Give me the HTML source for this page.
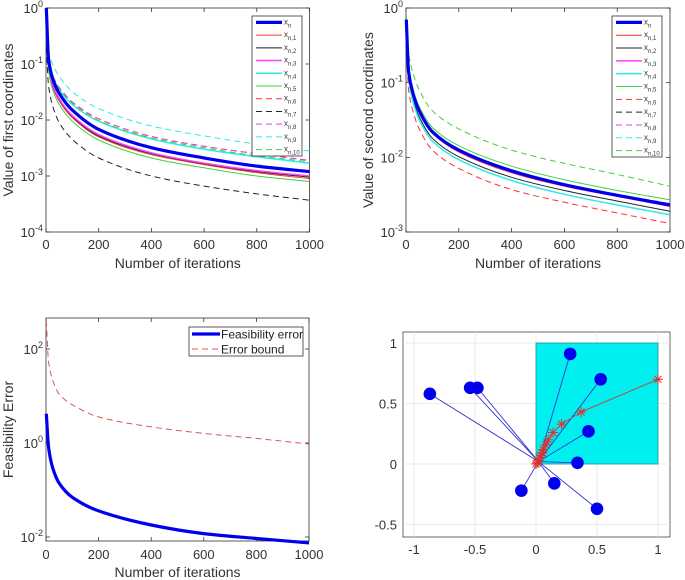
<!DOCTYPE html>
<html><head><meta charset="utf-8">
<style>
html,body{margin:0;padding:0;background:#fff;}
svg{display:block;font-family:"Liberation Sans",sans-serif;}
</style></head>
<body>
<svg id="fig" width="685" height="580" viewBox="0 0 685 580" xmlns="http://www.w3.org/2000/svg"></svg>
<script>
// ---------- data ----------
const iters = [1, 10, 25, 50, 100, 200, 400, 600, 800, 1000];
const seriesNames = ["n","n,1","n,2","n,3","n,4","n,5","n,6","n,7","n,8","n,9","n,10"];
// first coordinates
const first_xn  = [1.0, 0.12, 0.055, 0.03, 0.015, 0.0068, 0.0032, 0.0021, 0.0015, 0.0012];
const first_n1  = [0.5, 0.085, 0.04, 0.022, 0.011, 0.005, 0.0024, 0.0016, 0.00115, 0.0009];
const first_n2  = [0.5, 0.088, 0.041, 0.023, 0.0115, 0.0052, 0.0025, 0.00165, 0.0012, 0.00095];
const first_n3  = [0.5, 0.09, 0.043, 0.024, 0.012, 0.0055, 0.0026, 0.0017, 0.00125, 0.001];
const first_n4  = [0.3, 0.1, 0.06, 0.035, 0.019, 0.0095, 0.0046, 0.003, 0.0022, 0.0017];
const first_n5  = [0.4, 0.075, 0.035, 0.019, 0.0095, 0.0044, 0.0021, 0.0014, 0.001, 0.0008];
const first_n6  = [0.3, 0.1, 0.062, 0.038, 0.021, 0.0105, 0.0051, 0.0034, 0.0025, 0.0019];
const first_n7  = [0.2, 0.04, 0.018, 0.009, 0.0045, 0.0021, 0.001, 0.00066, 0.00048, 0.00037];
const first_n8  = [0.3, 0.1, 0.062, 0.038, 0.021, 0.0105, 0.0051, 0.0034, 0.0025, 0.0019];
const first_n9  = [0.4, 0.16, 0.1, 0.06, 0.032, 0.016, 0.0078, 0.0052, 0.0037, 0.0028];
const first_n10 = [0.3, 0.1, 0.06, 0.036, 0.02, 0.0098, 0.0048, 0.0032, 0.0023, 0.0018];
// second coordinates
const second_xn  = [0.7, 0.14, 0.075, 0.042, 0.022, 0.0125, 0.0066, 0.0043, 0.0031, 0.0023];
const second_n1  = [0.5, 0.13, 0.07, 0.04, 0.021, 0.0118, 0.0062, 0.0041, 0.003, 0.0022];
const second_n2  = [0.5, 0.12, 0.063, 0.035, 0.018, 0.0102, 0.0054, 0.0036, 0.0026, 0.0019];
const second_n3  = [0.6, 0.135, 0.073, 0.041, 0.0215, 0.0122, 0.0064, 0.0042, 0.0031, 0.0023];
const second_n4  = [0.5, 0.11, 0.058, 0.032, 0.0165, 0.0093, 0.0049, 0.0032, 0.0023, 0.0017];
const second_n5  = [0.6, 0.15, 0.085, 0.048, 0.025, 0.0143, 0.0076, 0.005, 0.0036, 0.0027];
const second_n6  = [0.3, 0.08, 0.043, 0.024, 0.0125, 0.0071, 0.0037, 0.0025, 0.0018, 0.0013];
const second_n7  = [0.5, 0.135, 0.073, 0.041, 0.0215, 0.0122, 0.0064, 0.0042, 0.0031, 0.0023];
const second_n8  = [0.5, 0.14, 0.075, 0.043, 0.0225, 0.0128, 0.0067, 0.0044, 0.0032, 0.0024];
const second_n9  = [0.5, 0.135, 0.073, 0.041, 0.0215, 0.0122, 0.0064, 0.0042, 0.0031, 0.0023];
const second_n10 = [0.8, 0.25, 0.14, 0.08, 0.042, 0.024, 0.0125, 0.0083, 0.0059, 0.0041];
// feasibility
const feasError = [4.2, 0.8, 0.3, 0.14, 0.07, 0.036, 0.018, 0.0118, 0.0093, 0.0075];
const errBound  = [400, 52, 22, 11, 6.5, 3.6, 2.2, 1.6, 1.25, 0.95];
// scatter
const ptsX = [-0.87, -0.54, -0.48, 0.28, 0.53, 0.43, 0.34, -0.12, 0.15, 0.50];
const ptsY = [0.58, 0.63, 0.63, 0.91, 0.70, 0.27, 0.01, -0.22, -0.16, -0.37];
const pathX = [1.0, 0.37, 0.21, 0.14, 0.10, 0.08, 0.06, 0.05, 0.04, 0.03, 0.02, 0.01, 0.0];
const pathY = [0.70, 0.43, 0.33, 0.26, 0.20, 0.16, 0.12, 0.09, 0.07, 0.05, 0.03, 0.01, 0.0];
const xTicks = [0, 200, 400, 600, 800, 1000];

const NS = "http://www.w3.org/2000/svg";
const svg = document.getElementById("fig");
function el(tag, attrs, parent, text){
  const e = document.createElementNS(NS, tag);
  for (const k in attrs) e.setAttribute(k, attrs[k]);
  if (text !== undefined) e.textContent = text;
  (parent || svg).appendChild(e);
  return e;
}
// monotone cubic path through pixel points
function smoothPath(xs, ys){
  const n = xs.length, d = [], m = [];
  for (let i=0;i<n-1;i++) d.push((ys[i+1]-ys[i])/(xs[i+1]-xs[i]));
  m[0]=d[0]; m[n-1]=d[n-2];
  for (let i=1;i<n-1;i++) m[i] = (d[i-1]*d[i]<=0)?0:(2/(1/d[i-1]+1/d[i]));
  let s = "M"+xs[0].toFixed(1)+","+ys[0].toFixed(1);
  for (let i=0;i<n-1;i++){
    const h = xs[i+1]-xs[i];
    s += " C"+(xs[i]+h/3).toFixed(1)+","+(ys[i]+m[i]*h/3).toFixed(1)+" "+
         (xs[i+1]-h/3).toFixed(1)+","+(ys[i+1]-m[i+1]*h/3).toFixed(1)+" "+
         xs[i+1].toFixed(1)+","+ys[i+1].toFixed(1);
  }
  return s;
}
const styles = [
  {c:"#0000ee", w:3.2, d:""},
  {c:"#ff3030", w:1, d:""},
  {c:"#222", w:1, d:""},
  {c:"#ff40ff", w:1.5, d:""},
  {c:"#30e8e8", w:1.5, d:""},
  {c:"#40d040", w:1, d:""},
  {c:"#ff3030", w:1, d:"6,4"},
  {c:"#222", w:1, d:"6,4"},
  {c:"#e040e0", w:1, d:"6,4"},
  {c:"#30e8e8", w:1, d:"6,4"},
  {c:"#40d040", w:1, d:"6,4"}
];

function logPlot(id, L, R, T, B, lo, hi, series, order, yTitle, tickExps, legendBox){
  const g = el("g", {});
  
  
  const sx = v => L + (v/1000)*(R-L);
  const sy = v => B - (Math.log10(v)-lo)/(hi-lo)*(B-T);
  el("rect",{x:L,y:T,width:R-L,height:B-T,fill:"#fff",stroke:"#333","stroke-width":0.8},g);
  xTicks.forEach(t=>{
    const x = sx(t);
    el("line",{x1:x,y1:B,x2:x,y2:B-4,stroke:"#333","stroke-width":0.8},g);
    el("line",{x1:x,y1:T,x2:x,y2:T+4,stroke:"#333","stroke-width":0.8},g);
    const tl = el("text",{x:x,y:B+17,"text-anchor":"middle","font-size":13,fill:"#333"},g,String(t));
    
    
  });
  tickExps.forEach(e=>{
    const y = sy(Math.pow(10,e));
    el("line",{x1:L,y1:y,x2:L+4,y2:y,stroke:"#333","stroke-width":0.8},g);
    el("line",{x1:R,y1:y,x2:R-4,y2:y,stroke:"#333","stroke-width":0.8},g);
    const t = el("text",{x:L-3,y:y+5,"text-anchor":"end","font-size":13,fill:"#333"},g);
    
    
    el("tspan",{},t,"10");
    el("tspan",{dy:-6,"font-size":9},t,String(e));
  });
  const xt = el("text",{x:(L+R)/2,y:B+36,"text-anchor":"middle","font-size":14,fill:"#333"},g,"Number of iterations");
  
  
  const yt = el("text",{x:0,y:0,"text-anchor":"middle","font-size":14,fill:"#333",transform:`translate(${L-33},${(T+B)/2}) rotate(-90)`},g,yTitle);
  
  
  order.forEach(i=>{
    const s = series[i], st = styles[i];
    const d = smoothPath(iters.map(sx), s.map(sy));
    const p = el("path",{d:d,fill:"none",stroke:st.c,"stroke-width":st.w,"stroke-dasharray":st.d},g);
    
    
  });
  const [lx,ly,lw,lh] = legendBox;
  const lg = el("g",{},g);
  
  
  el("rect",{x:lx,y:ly,width:lw,height:lh,fill:"#fff",stroke:"#333","stroke-width":0.8},lg);
  const step = lh/11;
  seriesNames.forEach((nm,i)=>{
    const y = ly + step*(i+0.5);
    const st = styles[i];
    const e = el("g",{},lg);
    
    
    el("line",{x1:lx+4,y1:y,x2:lx+30,y2:y,stroke:st.c,"stroke-width":st.w,"stroke-dasharray":st.d},e);
    const t = el("text",{x:lx+32,y:y+2,"font-size":8,fill:"#333"},e);
    el("tspan",{},t,"x");
    el("tspan",{dy:3,"font-size":6},t,nm);
  });
}

logPlot("plot-first-coordinates",46,309.5,8,232,-4,0,
  [first_xn,first_n1,first_n2,first_n3,first_n4,first_n5,first_n6,first_n7,first_n8,first_n9,first_n10],
  [1,2,3,4,5,6,7,8,9,10,0],"Value of first coordinates",[-4,-3,-2,-1,0],[252,16,50,140]);
logPlot("plot-second-coordinates",406,670,8,232,-3,0,
  [second_xn,second_n1,second_n2,second_n3,second_n4,second_n5,second_n6,second_n7,second_n8,second_n9,second_n10],
  [1,2,3,4,5,6,7,8,9,10,0],"Value of second coordinates",[-3,-2,-1,0],[612,16,50,141]);

// ---------- feasibility plot ----------
(function(){
  const L=46,R=309,T=318,B=541;
  const y0=443, dec=47;
  const g = el("g",{});
  
  
  const sx = v => L + (v/1000)*(R-L);
  const sy = v => y0 - Math.log10(v)*dec;
  el("rect",{x:L,y:T,width:R-L,height:B-T,fill:"#fff",stroke:"#333","stroke-width":0.8},g);
  xTicks.forEach(t=>{
    const x=sx(t);
    el("line",{x1:x,y1:B,x2:x,y2:B-4,stroke:"#333","stroke-width":0.8},g);
    el("line",{x1:x,y1:T,x2:x,y2:T+4,stroke:"#333","stroke-width":0.8},g);
    const tl = el("text",{x:x,y:B+18,"text-anchor":"middle","font-size":13,fill:"#333"},g,String(t));
    
    
  });
  [-2,0,2].forEach(e=>{
    const y=sy(Math.pow(10,e));
    el("line",{x1:L,y1:y,x2:L+4,y2:y,stroke:"#333","stroke-width":0.8},g);
    el("line",{x1:R,y1:y,x2:R-4,y2:y,stroke:"#333","stroke-width":0.8},g);
    const t = el("text",{x:L-3,y:y+5,"text-anchor":"end","font-size":13,fill:"#333"},g);
    
    
    el("tspan",{},t,"10");
    el("tspan",{dy:-6,"font-size":9},t,String(e));
  });
  const xt = el("text",{x:(L+R)/2,y:B+36,"text-anchor":"middle","font-size":14,fill:"#333"},g,"Number of iterations");
  
  
  const yt = el("text",{x:0,y:0,"text-anchor":"middle","font-size":14,fill:"#333",transform:`translate(13,${(T+B)/2}) rotate(-90)`},g,"Feasibility Error");
  
  
  const p1 = el("path",{d:smoothPath(iters.map(sx), errBound.map(sy)),fill:"none",stroke:"#e05555","stroke-width":1,"stroke-dasharray":"6,4"},g);
  
  
  const p2 = el("path",{d:smoothPath(iters.map(sx), feasError.map(sy)),fill:"none",stroke:"#0000ee","stroke-width":3.2},g);
  
  
  const lg = el("g",{},g);
  
  
  el("rect",{x:189,y:327,width:114,height:29,fill:"#fff",stroke:"#333","stroke-width":0.8},lg);
  el("line",{x1:192,y1:334,x2:220,y2:334,stroke:"#0000ee","stroke-width":3.2},lg);
  el("text",{x:221,y:338.5,"font-size":12,fill:"#222"},lg,"Feasibility error");
  el("line",{x1:192,y1:349,x2:220,y2:349,stroke:"#e05555","stroke-width":1,"stroke-dasharray":"6,4"},lg);
  el("text",{x:221,y:353.5,"font-size":12,fill:"#222"},lg,"Error bound");
})();

// ---------- scatter plot ----------
(function(){
  const L=403,R=670,T=332,B=537;
  const x0=536, ux=122, y0=464, uy=121;
  const sx=v=>x0+v*ux, sy=v=>y0-v*uy;
  const g = el("g",{});
  
  
  el("rect",{x:L,y:T,width:R-L,height:B-T,fill:"#fff",stroke:"#444","stroke-width":0.8},g);
  const xt=[-1,-0.5,0,0.5,1], yt=[-0.5,0,0.5,1];
  xt.forEach(v=>{
    el("line",{x1:sx(v),y1:T,x2:sx(v),y2:B,stroke:"#e4e4e4","stroke-width":0.8},g);
    const t=el("text",{x:sx(v),y:B+17,"text-anchor":"middle","font-size":13,fill:"#333"},g,String(v));
    
    
  });
  yt.forEach(v=>{
    el("line",{x1:L,y1:sy(v),x2:R,y2:sy(v),stroke:"#e4e4e4","stroke-width":0.8},g);
    const t=el("text",{x:L-6,y:sy(v)+5,"text-anchor":"end","font-size":13,fill:"#333"},g,String(v));
    
    
  });
  const sq = el("rect",{x:sx(0),y:sy(1),width:ux,height:uy,fill:"#00f0f0",stroke:"#2a8a9a","stroke-width":0.8},g);
  
  
  ptsX.forEach((px,i)=>{
    const ln = el("line",{x1:sx(px),y1:sy(ptsY[i]),x2:sx(0.02),y2:sy(0.02),stroke:"#3333cc","stroke-width":0.9},g);
    
    
  });
  const pd = pathX.map((v,k)=>(k?"L":"M")+sx(v).toFixed(1)+","+sy(pathY[k]).toFixed(1)).join(" ");
  const pp = el("path",{d:pd,fill:"none",stroke:"#b05050","stroke-width":1},g);
  
  
  pathX.forEach((v,k)=>{
    const cx=sx(v), cy=sy(pathY[k]);
    const s = el("g",{transform:`translate(${cx.toFixed(1)},${cy.toFixed(1)})`,stroke:"#e03030","stroke-width":1},g);
    
    
    el("line",{x1:-5,y1:0,x2:5,y2:0},s);
    el("line",{x1:0,y1:-5,x2:0,y2:5},s);
    el("line",{x1:-3.5,y1:-3.5,x2:3.5,y2:3.5},s);
    el("line",{x1:-3.5,y1:3.5,x2:3.5,y2:-3.5},s);
  });
  ptsX.forEach((px,i)=>{
    const c = el("circle",{cx:sx(px),cy:sy(ptsY[i]),r:6.3,fill:"#0000ee"},g);
    
    
  });
})();
</script>
</body></html>
